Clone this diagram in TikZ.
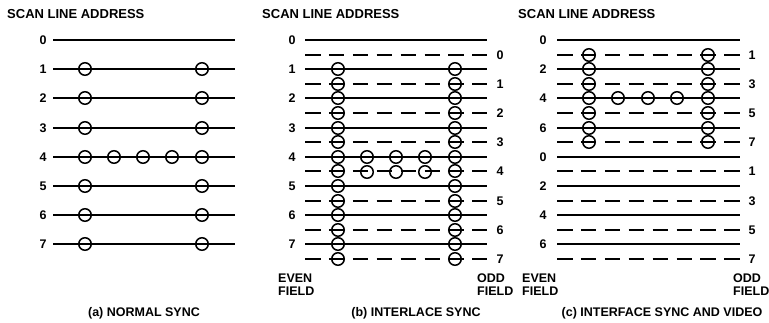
\documentclass[tikz,border=0pt]{standalone}
\usepackage{fontspec}
\setmainfont{Liberation Sans}
\begin{document}
\begin{tikzpicture}[x=1pt,y=-1pt,
  lbl/.style={font=\bfseries\fontsize{12.5}{14}\selectfont, inner sep=0pt},
  ttl/.style={font=\bfseries\fontsize{13}{15}\selectfont, inner sep=0pt, anchor=west},
  fld/.style={font=\bfseries\fontsize{12.5}{13}\selectfont, inner sep=0pt, align=left, anchor=north west},
  solidline/.style={line width=1.9pt},
  dashline/.style={line width=1.9pt, dash pattern=on 15.5pt off 8.4pt},
  dot/.style={circle, draw, line width=1.5pt, minimum size=12.5pt, inner sep=0pt}]
\useasboundingbox (0,0) rectangle (769,323);
% ---------- (a) ----------
\node[ttl] (ta) at (7,14) {SCAN LINE ADDRESS};
\foreach \i in {0,...,7} {
  \pgfmathtruncatemacro\yy{round(40+29.2*\i)}
  \coordinate (as\i) at (53,\yy);
  \coordinate (ae\i) at (235,\yy);
  \draw[solidline] (as\i) -- (ae\i);
  \node[lbl] (al\i) at (43,\yy) {\i};
}
\foreach \i in {1,...,7} {
  \pgfmathtruncatemacro\yy{round(40+29.2*\i)}
  \node[dot] (ac\i a) at (85,\yy) {};
  \node[dot] (ac\i b) at (202,\yy) {};
}
\foreach \x/\n in {114/1,143/2,172/3} {
  \node[dot] (ax\n) at (\x,157) {};
}
\node[lbl] (capa) at (144,313) {(a) NORMAL SYNC};
% ---------- (b) ----------
\node[ttl] (tb) at (262,14) {SCAN LINE ADDRESS};
\foreach \i in {0,...,7} {
  \pgfmathtruncatemacro\ys{round(40+29.2*\i)}
  \pgfmathtruncatemacro\yd{round(40+29.2*\i+14.6)}
  \coordinate (bs\i) at (305,\ys);
  \coordinate (be\i) at (487,\ys);
  \coordinate (bds\i) at (305,\yd);
  \coordinate (bde\i) at (487,\yd);
  \draw[solidline] (bs\i) -- (be\i);
  \draw[dashline] (bds\i) -- (bde\i);
  \node[lbl] (bl\i) at (292,\ys) {\i};
  \node[lbl] (br\i) at (500,\yd) {\i};
}
\foreach \i in {1,...,7} {
  \pgfmathtruncatemacro\ys{round(40+29.2*\i)}
  \pgfmathtruncatemacro\yd{round(40+29.2*\i+14.6)}
  \node[dot] (bc\i a) at (338,\ys) {};
  \node[dot] (bc\i b) at (455,\ys) {};
  \node[dot] (bd\i a) at (338,\yd) {};
  \node[dot] (bd\i b) at (455,\yd) {};
}
\foreach \x/\n in {367/1,396/2,425/3} {
  \node[dot] (bx\n) at (\x,157) {};
  \node[dot] (by\n) at (\x,172) {};
}
\node[fld] (beven) at (278,274) {EVEN\\FIELD};
\node[fld] (bodd) at (477,274) {ODD\\FIELD};
\node[lbl] (capb) at (416,313) {(b) INTERLACE SYNC};
% ---------- (c) ----------
\node[ttl] (tc) at (518,14) {SCAN LINE ADDRESS};
\foreach \k in {0,...,15} {
  \pgfmathtruncatemacro\yy{round(40+14.6*\k)}
  \pgfmathtruncatemacro\lab{mod(\k,8)}
  \pgfmathtruncatemacro\odd{mod(\k,2)}
  \coordinate (cs\k) at (557,\yy);
  \coordinate (ce\k) at (740,\yy);
  \ifnum\odd=0
    \draw[solidline] (cs\k) -- (ce\k);
    \node[lbl] (cl\k) at (543,\yy) {\lab};
  \else
    \draw[dashline] (cs\k) -- (ce\k);
    \node[lbl] (cr\k) at (752,\yy) {\lab};
  \fi
}
\foreach \k in {1,...,7} {
  \pgfmathtruncatemacro\yy{round(40+14.6*\k)}
  \node[dot] (cc\k a) at (589,\yy) {};
  \node[dot] (cc\k b) at (708,\yy) {};
}
\foreach \x/\n in {618/1,648/2,677/3} {
  \node[dot] (cx\n) at (\x,98) {};
}
\node[fld] (ceven) at (522,274) {EVEN\\FIELD};
\node[fld] (codd) at (733,274) {ODD\\FIELD};
\node[lbl] (capc) at (662,313) {(c) INTERFACE SYNC AND VIDEO};
\end{tikzpicture}
\end{document}
